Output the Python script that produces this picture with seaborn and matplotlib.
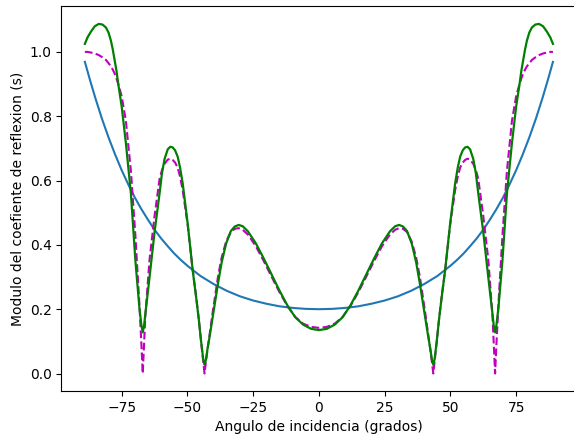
import numpy as np
import pandas as pd
import seaborn as sns
import matplotlib
matplotlib.use("Agg")
import matplotlib.pyplot as plt

# values (right half, curve is symmetric about 0)
ang_blue = [0, 5, 10, 15, 20, 25, 30, 35, 40, 45, 50, 52.5, 55, 57.5, 60, 62.5,
            65, 67.5, 70, 72.5, 75, 77.5, 80, 82.5, 85, 87, 89]
r_blue = [0.200, 0.201, 0.204, 0.209, 0.217, 0.227, 0.240, 0.257, 0.278, 0.303,
          0.335, 0.353, 0.373, 0.396, 0.420, 0.447, 0.478, 0.511, 0.547, 0.588,
          0.632, 0.681, 0.734, 0.792, 0.856, 0.911, 0.969]

ang = [0, 3, 6, 9, 12, 15, 18, 21, 24, 27, 29, 30.5, 32, 33.5, 35.3, 37, 38.4,
       40.4, 41.5, 42.3, 43, 43.5, 44, 44.8, 45.7, 46.7, 48, 49.9, 51.8, 52.8,
       53.7, 54.7, 55.6, 56.5, 57.5, 58.7, 59.7, 60.6, 62.5, 64.4, 66, 66.5, 67,
       67.5, 68.3, 69.8, 71.5, 73.4, 75, 76.3, 77, 77.7, 78.4, 79.1, 80, 81,
       82.3, 83.7, 85.2, 86.7, 88, 89]
r_exacta = [0.142, 0.145, 0.155, 0.176, 0.210, 0.253, 0.301, 0.350, 0.396, 0.432,
            0.447, 0.452, 0.450, 0.440, 0.410, 0.360, 0.300, 0.190, 0.125, 0.078,
            0.034, 0.000, 0.038, 0.098, 0.170, 0.240, 0.322, 0.462, 0.570, 0.612,
            0.640, 0.656, 0.664, 0.668, 0.665, 0.652, 0.632, 0.605, 0.490, 0.355,
            0.180, 0.090, 0.000, 0.090, 0.220, 0.430, 0.630, 0.785, 0.862, 0.900,
            0.918, 0.933, 0.945, 0.955, 0.965, 0.975, 0.983, 0.990, 0.995, 0.998,
            1.000, 1.000]
r_aprox = [0.135, 0.139, 0.152, 0.175, 0.212, 0.258, 0.308, 0.358, 0.405, 0.442,
           0.458, 0.462, 0.457, 0.443, 0.404, 0.345, 0.279, 0.175, 0.118, 0.080,
           0.042, 0.027, 0.045, 0.100, 0.170, 0.238, 0.321, 0.466, 0.591, 0.640,
           0.674, 0.694, 0.703, 0.705, 0.697, 0.667, 0.622, 0.560, 0.440, 0.300,
           0.186, 0.148, 0.128, 0.150, 0.207, 0.352, 0.560, 0.716, 0.830, 0.900,
           0.942, 0.975, 1.008, 1.035, 1.060, 1.076, 1.085, 1.087, 1.080, 1.063,
           1.045, 1.025]


def espejo(a, r):
    a = np.asarray(a, float)
    r = np.asarray(r, float)
    return np.concatenate([-a[:0:-1], a]), np.concatenate([r[:0:-1], r])


xb, yb = espejo(ang_blue, r_blue)
xe, ye = espejo(ang, r_exacta)
xa, ya = espejo(ang, r_aprox)

fig = plt.figure(figsize=(5.74, 4.38), dpi=100)
ax = fig.add_axes([0.1071, 0.1073, 0.897, 0.878])

sns.lineplot(x=xb, y=yb, ax=ax, color="#1f77b4", lw=1.5, estimator=None, sort=False)
sns.lineplot(x=xe, y=ye, ax=ax, color="m", lw=1.5, ls="--", estimator=None, sort=False)
sns.lineplot(x=xa, y=ya, ax=ax, color="g", lw=1.6, estimator=None, sort=False)

ax.set_xlabel("Angulo de incidencia (grados)")
ax.set_ylabel("Modulo del coefiente de reflexion (s)")

fig.savefig("out.png", dpi=100)
